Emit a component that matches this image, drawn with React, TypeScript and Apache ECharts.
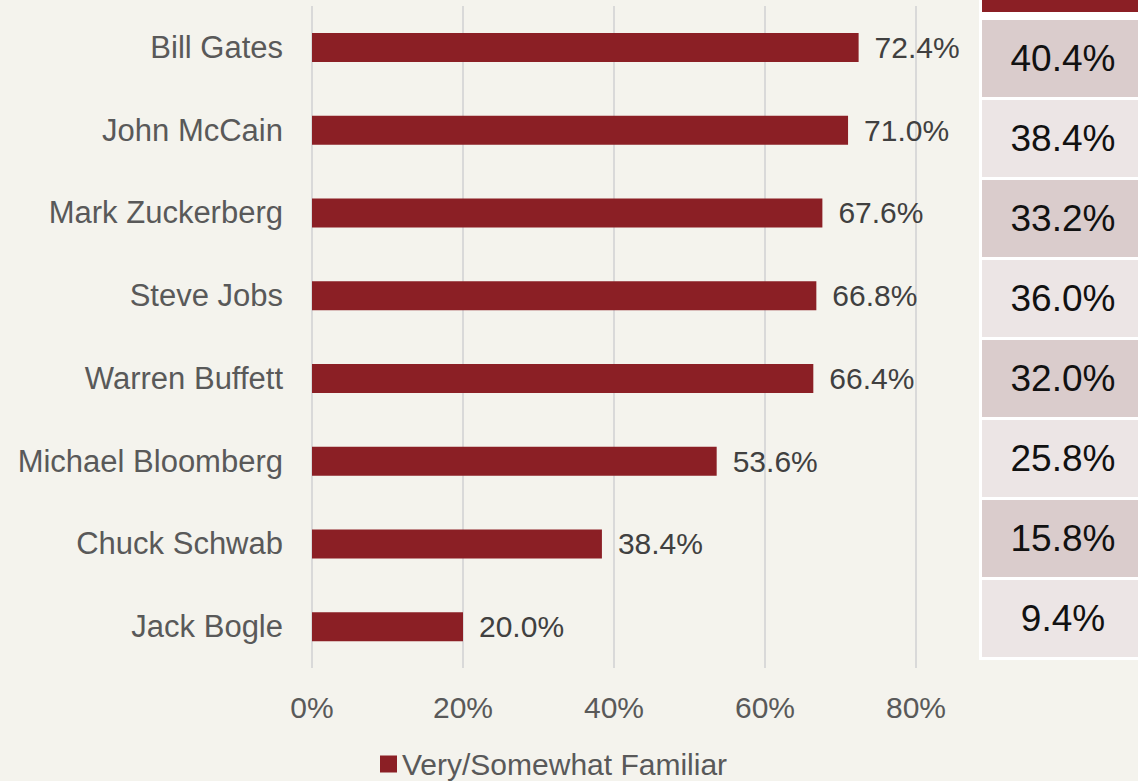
import React, { useEffect, useRef } from "react";
import * as echarts from "echarts";

const categories = [
  "Bill Gates",
  "John McCain",
  "Mark Zuckerberg",
  "Steve Jobs",
  "Warren Buffett",
  "Michael Bloomberg",
  "Chuck Schwab",
  "Jack Bogle",
];
const familiarValues = [72.4, 71.0, 67.6, 66.8, 66.4, 53.6, 38.4, 20.0];
const tableValues = [40.4, 38.4, 33.2, 36.0, 32.0, 25.8, 15.8, 9.4];
const seriesName = "Very/Somewhat Familiar";

const BG = "#f4f3ed";
const RED = "#8b1f25";
const FONT = "'Liberation Sans', Arial, sans-serif";

export default function App() {
  const ref = useRef<HTMLDivElement>(null);
  useEffect(() => {
    if (!ref.current) return;
    const chart = echarts.init(ref.current, undefined, { renderer: "svg" });

    const tableGraphics: any[] = [
      {
        type: "rect",
        shape: { x: 979, y: 0, width: 159, height: 660 },
        style: { fill: "#ffffff" },
      },
      {
        type: "rect",
        shape: { x: 982, y: 0, width: 156, height: 12 },
        style: { fill: RED },
      },
    ];
    tableValues.forEach((v, i) => {
      const top = 20 + i * 80;
      tableGraphics.push({
        type: "rect",
        shape: { x: 982, y: top, width: 156, height: 77 },
        style: { fill: i % 2 === 0 ? "#dacccc" : "#ece5e5" },
      });
      tableGraphics.push({
        type: "text",
        x: 1063,
        y: top + 38,
        style: {
          text: v.toFixed(1) + "%",
          fontSize: 37,
          fontFamily: FONT,
          fill: "#111111",
          align: "center",
          verticalAlign: "middle",
        },
      });
    });

    chart.setOption({
      animation: false,
      backgroundColor: BG,
      textStyle: { fontFamily: FONT },
      grid: { left: 312, right: 222, top: 6, bottom: 113, containLabel: false },
      legend: {
        data: [seriesName],
        top: 749,
        left: 380,
        padding: 0,
        itemWidth: 17,
        itemHeight: 17,
        itemGap: 4,
        icon: "rect",
        textStyle: {
          fontSize: 30,
          lineHeight: 30,
          color: "#595959",
          fontFamily: FONT,
        },
      },
      xAxis: {
        type: "value",
        min: 0,
        max: 80,
        interval: 20,
        axisLine: { show: false },
        axisTick: { show: false },
        splitLine: { show: true, lineStyle: { color: "#d9d9d9", width: 2 } },
        axisLabel: {
          formatter: (v: number) => v + "%",
          fontSize: 30,
          color: "#595959",
          margin: 24,
          fontFamily: FONT,
        },
      },
      yAxis: {
        type: "category",
        data: categories,
        inverse: true,
        axisLine: { show: false },
        axisTick: { show: false },
        axisLabel: {
          fontSize: 31,
          color: "#595959",
          margin: 29,
          fontFamily: FONT,
        },
      },
      series: [
        {
          name: seriesName,
          type: "bar",
          data: familiarValues,
          barWidth: 29,
          itemStyle: { color: RED },
          label: {
            show: true,
            position: "right",
            distance: 16,
            formatter: (p: any) => p.value.toFixed(1) + "%",
            fontSize: 30,
            color: "#404040",
            fontFamily: FONT,
          },
        },
      ],
      graphic: tableGraphics,
    });
    return () => chart.dispose();
  }, []);

  return (
    <div
      ref={ref}
      style={{ position: "fixed", left: 0, top: 0, width: 1138, height: 781 }}
    />
  );
}
